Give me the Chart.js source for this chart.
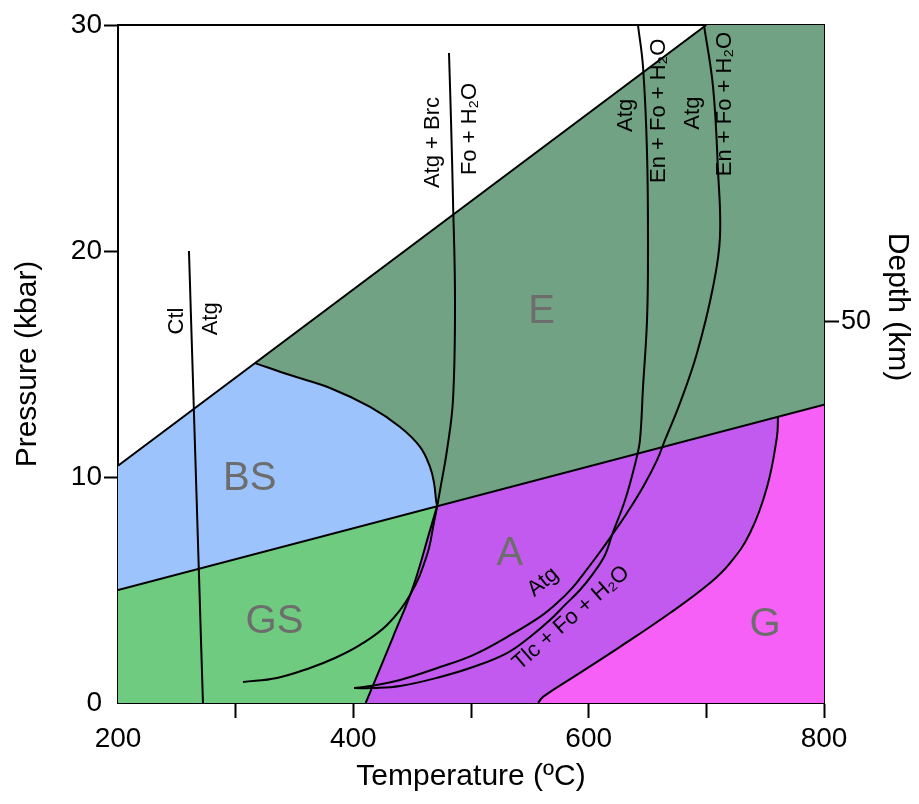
<!DOCTYPE html>
<html>
<head>
<meta charset="utf-8">
<script src="https://cdn.jsdelivr.net/npm/chart.js@4.4.1/dist/chart.umd.min.js"></script>
<style>
  body { margin: 0; background: #fff; }
  #wrap { width: 919px; height: 804px; }
</style>
</head>
<body>
<div id="wrap"><canvas id="pt" width="919" height="804"></canvas></div>
<script>
// P-T grid, points are [temperature C, pressure kbar]
const upperBoundary = [[200, 10.5], [700, 30]];
const lowerBoundary = [[200, 5.0], [800, 13.2]];
const bsCurve = [[316.4, 15.04], [346.2, 14.51], [380.2, 13.94], [414.2, 13.10], [439.7, 12.21],
    [456.7, 11.33], [465.2, 10.44], [468.6, 9.73], [470.3, 8.98], [471.2, 8.71]];
const gsaCurve = [[471.2, 8.71], [465.2, 7.65], [450.7, 5.13], [433.7, 2.92], [410.5, 0]];
const gCurve = [[760.9, 12.66], [760.0, 11.77], [751.6, 9.56], [737.1, 7.52], [720.1, 6.19],
    [703.1, 5.31], [669.1, 3.98], [626.6, 2.48], [592.6, 1.33], [561.2, 0.27], [557, 0]];

const ctlAtg = [[260.3, 20.0], [272.2, 0]];
const brcOut = [[481.3, 28.76], [483.0, 25.80], [484.7, 22.26], [486.4, 17.83], [484.7, 13.41],
    [479.6, 11.19], [473.7, 9.42], [471.1, 8.67], [468.6, 8.01], [462.6, 6.55], [448.2, 4.78],
    [428.6, 3.45], [405.7, 2.57], [384.4, 1.99], [363.2, 1.55], [335.1, 1.11], [306.2, 0.93]];
const atgOutA = [[641.9, 30], [646.2, 28.14], [649.6, 24.34], [650.4, 19.91], [649.6, 16.95],
    [646.2, 13.98], [643.6, 11.64], [640.3, 10.75], [630.9, 8.97], [619.8, 7.43], [613.9, 6.55],
    [602.8, 5.66], [592.6, 5.0], [579.9, 4.34], [567.1, 3.67], [550.1, 2.92], [530.6, 2.21],
    [501.7, 1.59], [473.7, 1.15], [439.7, 0.75], [416.7, 0.66], [400.6, 0.66]];
const atgOutB = [[698, 30], [705.7, 27.26], [709.9, 23.58], [711.6, 20.62], [705.7, 18.41],
    [692.1, 15.49], [677.6, 13.27], [664.9, 11.64], [658.1, 10.75], [646.2, 9.56], [632.6, 8.41],
    [619.8, 7.43], [609.6, 6.68], [596.9, 5.80], [586.7, 5.13], [573.1, 4.42], [558.6, 3.81],
    [530.6, 2.92], [501.7, 2.12], [473.7, 1.59], [439.7, 1.02], [414.2, 0.75], [400.6, 0.66]];

const xTicks = [200, 400, 600, 800];
const yTicks = [0, 10, 20, 30];
const depthTick = 50;
const pressureAtDepthTick = 16.86;

// facies names and reaction labels (T, P)
const regionNames = ['E', 'BS', 'A', 'GS', 'G'];
const regionT = [560, 312, 533, 333, 750];
const regionP = [17.3, 9.9, 6.6, 3.6, 3.45];

const reactionText = ['Ctl', 'Atg', 'Atg + Brc', 'Fo + H\u2082O', 'Atg', 'En + Fo + H\u2082O',
    'Atg', 'En + Fo + H\u2082O', 'Atg', 'Tlc + Fo + H\u2082O'];
const reactionT = [250.1, 279.0, 467.7, 499.2, 631.7, 659.8, 688.7, 715.9, 561.2, 585];
const reactionP = [16.9, 17.0, 24.8, 25.4, 26.0, 26.2, 26.1, 26.5, 5.35, 3.76];
const reactionAngle = [-90, -90, -90, -90, -90, -90, -90, -90, -40, -41];

const FONT = "'Liberation Sans', Arial, Helvetica, sans-serif";
Chart.defaults.font.family = FONT;
Chart.defaults.color = '#000';

const rev = a => a.slice().reverse();

// filled facies fields
const fields = [
    { color: '#70a283', pts: [bsCurve[0], upperBoundary[1], [800, 30], lowerBoundary[1], ...rev(bsCurve)] },
    { color: '#9dc3fc', pts: [upperBoundary[0], ...bsCurve, lowerBoundary[0]] },
    { color: '#6fcb80', pts: [lowerBoundary[0], ...gsaCurve, [200, 0]] },
    { color: '#c35af0', pts: [...gsaCurve.slice(0, 1), ...gCurve, ...rev(gsaCurve)] },
    { color: '#f660f6', pts: [gCurve[0], lowerBoundary[1], [800, 0], ...rev(gCurve)] }
];

const toXY = pts => pts.map(([x, y]) => ({ x, y }));

function blackLine(pts, tension) {
    return {
        data: toXY(pts), showLine: true, borderColor: '#000', borderWidth: 2,
        pointRadius: 0, tension: tension, fill: false
    };
}

const datasets = [
    blackLine(upperBoundary, 0),
    blackLine(lowerBoundary, 0),
    blackLine(bsCurve, 0.4),
    blackLine(gsaCurve, 0.4),
    blackLine(gCurve, 0.4),
    blackLine(ctlAtg, 0),
    blackLine(brcOut, 0.4),
    blackLine(atgOutA, 0.4),
    blackLine(atgOutB, 0.4)
];
fields.forEach(f => datasets.push({
    data: toXY(f.pts), showLine: true, borderWidth: 0, pointRadius: 0,
    tension: 0.0001, backgroundColor: f.color, fill: 'shape'
}));

const labelsPlugin = {
    id: 'labels',
    afterDatasetsDraw(chart) {
        const { ctx, scales: { x, y } } = chart;
        ctx.save();
        ctx.textAlign = 'center';
        ctx.textBaseline = 'middle';
        ctx.fillStyle = '#6d6d6d';
        ctx.font = '40px ' + FONT;
        regionNames.forEach((t, i) => {
            ctx.fillText(t, x.getPixelForValue(regionT[i]), y.getPixelForValue(regionP[i]));
        });
        ctx.fillStyle = '#000';
        ctx.font = '22px ' + FONT;
        reactionText.forEach((t, i) => {
            ctx.save();
            ctx.translate(x.getPixelForValue(reactionT[i]), y.getPixelForValue(reactionP[i]));
            ctx.rotate(reactionAngle[i] * Math.PI / 180);
            ctx.fillText(t, 0, 0);
            ctx.restore();
        });
        ctx.restore();
    },
    afterDraw(chart) {
        // right-hand axis title
        const { ctx } = chart;
        ctx.save();
        ctx.translate(897, 307);
        ctx.rotate(Math.PI / 2);
        ctx.font = '30px ' + FONT;
        ctx.fillStyle = '#000';
        ctx.textAlign = 'center';
        ctx.textBaseline = 'middle';
        ctx.fillText('Depth (km)', 0, 0);
        ctx.restore();
    }
};

const tickGrid = (hidden) => ({
    drawOnChartArea: false, drawTicks: true, tickLength: 15, tickWidth: 2,
    tickColor: c => (c.tick && c.tick.value === hidden) ? 'rgba(0,0,0,0)' : '#000'
});

new Chart(document.getElementById('pt'), {
    type: 'scatter',
    data: { datasets: datasets },
    options: {
        responsive: false,
        animation: false,
        events: [],
        layout: { padding: 0, autoPadding: false },
        plugins: { legend: { display: false }, tooltip: { enabled: false } },
        scales: {
            x: {
                type: 'linear', position: 'bottom', min: 200, max: 800, z: 1,
                border: { color: '#000', width: 2 },
                grid: tickGrid(200),
                ticks: {
                    stepSize: 100, autoSkip: false, maxRotation: 0, padding: 4,
                    font: { size: 28 },
                    callback: v => xTicks.includes(v) ? String(v) : ''
                },
                title: { display: true, text: 'Temperature (\u00baC)', font: { size: 30 }, padding: { top: 0, bottom: 9 } },
                afterFit: s => { s.height = 101; }
            },
            x2: {
                type: 'linear', position: 'top', min: 200, max: 800, z: 1,
                border: { color: '#000', width: 2 },
                grid: { display: false },
                ticks: { display: false },
                afterFit: s => { s.height = 25; }
            },
            y: {
                type: 'linear', position: 'left', min: 0, max: 30, z: 1,
                border: { color: '#000', width: 2 },
                grid: Object.assign(tickGrid(0), { tickLength: 14 }),
                ticks: { stepSize: 10, padding: 2, font: { size: 28 },
                    callback: v => yTicks.includes(v) ? String(v) : '' },
                title: { display: true, text: 'Pressure (kbar)', font: { size: 30 }, padding: { top: 10, bottom: 0 } },
                afterFit: s => { s.width = 118; }
            },
            y2: {
                type: 'linear', position: 'right', min: 0, max: 30 * depthTick / pressureAtDepthTick, z: 1,
                border: { color: '#000', width: 2 },
                grid: tickGrid(-1),
                ticks: { padding: 2, font: { size: 27 } },
                afterBuildTicks: s => { s.ticks = [{ value: depthTick }]; },
                afterFit: s => { s.width = 95; }
            }
        }
    },
    plugins: [labelsPlugin]
});
</script>
</body>
</html>
